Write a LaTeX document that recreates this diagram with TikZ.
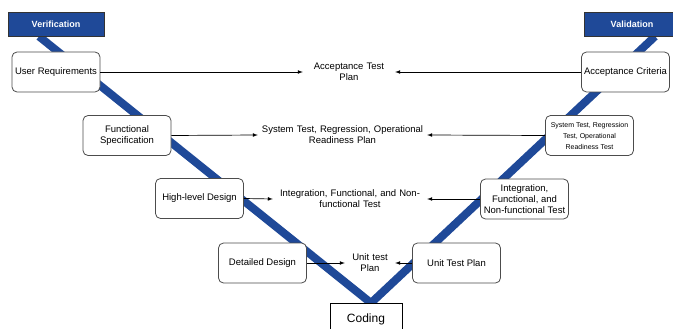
\documentclass[tikz,border=0pt]{standalone}
\usepackage{fontspec}
\setmainfont{Liberation Sans}
\usetikzlibrary{arrows, backgrounds}
\definecolor{vblue}{RGB}{31,73,152}

\begin{document}
\begin{tikzpicture}
    [
        x=1pt, y=-1pt,
        header/.style = {draw=black!80, fill=vblue, shape=rectangle, minimum height=24pt, minimum width=96pt, line width=0.8pt, text=white, font=\fontsize{9}{11}\selectfont\bfseries},
        phase/.style = {draw=black!70, fill=white, shape=rectangle, rounded corners=5pt, minimum height=40pt, minimum width=88pt, inner sep=1pt, line width=0.8pt, align=center, font=\fontsize{9.5}{11}\selectfont},
        plan/.style = {shape=rectangle, inner sep=0pt, align=center, font=\fontsize{9.5}{11}\selectfont},
        vline/.style = {draw=vblue, line width=8pt},
        link/.style = {-latex, line width=0.7pt},
    ]

    \useasboundingbox (0,0) rectangle (673,329);

    \node[header] (verif) at (56,24)     {Verification};
    \node[header] (valid) at (632,24)    {Validation};

    \node[phase] (ur) at (56,72)         {User Requirements};
    \node[phase] (fs) at (127,135.5)     {Functional\\Specification};
    \node[phase] (hd) at (199.5,198.5)   {High-level Design};
    \node[phase] (dd) at (262.5,263)     {Detailed Design};

    \node[phase] (ac) at (625.5,72)      {Acceptance Criteria};
    \node[phase, font=\fontsize{7}{11}\selectfont] (st) at (589.5,135.5) {System Test, Regression\\Test, Operational\\Readiness Test};
    \node[phase] (it) at (524.5,199)     {Integration,\\Functional, and\\Non-functional Test};
    \node[phase] (ut) at (456.5,263)     {Unit Test Plan};

    \node[draw=black, fill=white, shape=rectangle, minimum width=72pt, minimum height=32pt, line width=0.8pt, font=\fontsize{12}{14}\selectfont] (coding) at (366,319) {Coding};

    \node[plan, text width=92pt] (atp) at (349,72)      {Acceptance Test\\Plan};
    \node[plan, text width=169pt] (srp) at (342.5,135)  {System Test, Regression, Operational\\Readiness Plan};
    \node[plan, text width=154pt] (ifp) at (350,199)    {Integration, Functional, and Non-\\functional Test};
    \node[plan, text width=50pt] (utp) at (370,263)     {Unit test\\Plan};

    % the V behind the boxes
    \begin{scope}[on background layer]
        \coordinate (vtip) at (371,303);
        \draw[vline] ([xshift=-17pt]verif.south) -- (vtip) -- ([xshift=23pt]valid.south);
    \end{scope}

    \draw [link] (ur.east) -- (atp.west);
    \draw [link] (fs.east) -- (srp.west);
    \draw [link] (hd.east) -- (ifp.west);
    \draw [link] (dd.east) -- (utp.west);

    \draw [link] (ac.west) -- (atp.east);
    \draw [link] (st.west) -- (srp.east);
    \draw [link] (it.west) -- (ifp.east);
    \draw [link] (ut.west) -- (utp.east);

\end{tikzpicture}
\end{document}
